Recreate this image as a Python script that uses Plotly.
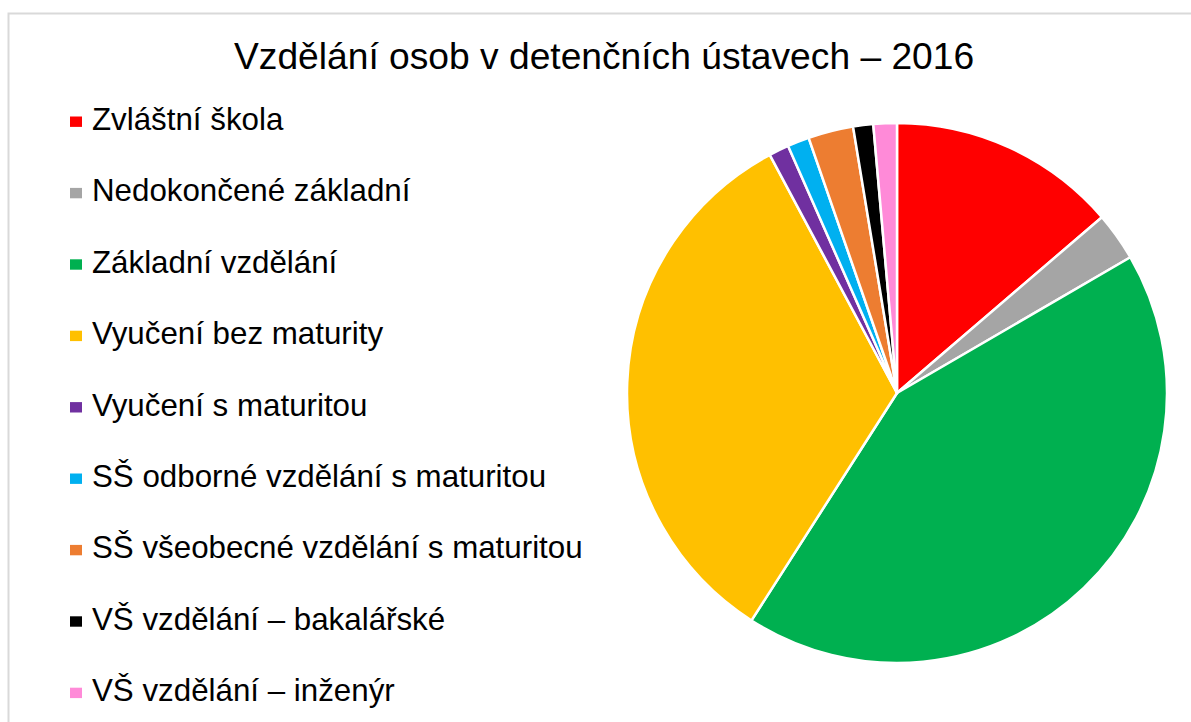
import plotly.graph_objects as go

W, H = 1191, 722

title = "Vzdělání osob v detenčních ústavech – 2016"
labels = [
    "Zvláštní škola",
    "Nedokončené základní",
    "Základní vzdělání",
    "Vyučení bez maturity",
    "Vyučení s maturitou",
    "SŠ odborné vzdělání s maturitou",
    "SŠ všeobecné vzdělání s maturitou",
    "VŠ vzdělání – bakalářské",
    "VŠ vzdělání – inženýr",
]
values = [13.7, 2.9, 42.4, 33.1, 1.2, 1.3, 2.7, 1.2, 1.4]
colors = ["#FF0000", "#A5A5A5", "#00B050", "#FFC000", "#7030A0",
          "#00B0F0", "#ED7D31", "#000000", "#FF8AD8"]

FONT = "Liberation Sans, Arial, sans-serif"

def px(x):
    return x / W

def py(y):
    return 1 - y / H

fig = go.Figure(go.Pie(
    labels=labels,
    values=values,
    marker=dict(colors=colors, line=dict(color="white", width=2.5)),
    sort=False,
    direction="clockwise",
    rotation=0,
    textinfo="none",
    hoverinfo="label+percent",
    showlegend=False,
    domain=dict(x=[px(627), px(1167)], y=[py(663), py(123)]),
))

# Legend built from the label / colour lists
shapes = [dict(type="rect", xref="paper", yref="paper",
               x0=px(8.5), x1=1.02, y0=-0.02, y1=py(13.5),
               line=dict(color="#D9D9D9", width=2), fillcolor="rgba(0,0,0,0)",
               layer="below")]
annotations = []
y0, step = 119.5, 71.4
for i, (lab, col) in enumerate(zip(labels, colors)):
    yc = y0 + i * step
    sq = 121.7 + i * step
    shapes.append(dict(type="rect", xref="paper", yref="paper",
                       x0=px(70), x1=px(82), y0=py(sq + 5.2), y1=py(sq - 5.2),
                       fillcolor=col, line=dict(width=0)))
    annotations.append(dict(text=lab, xref="paper", yref="paper",
                            x=px(89.5), y=py(yc), xanchor="left", yanchor="middle",
                            showarrow=False,
                            font=dict(family=FONT, size=31.3, color="#000000")))

annotations.append(dict(text=title, xref="paper", yref="paper",
                        x=px(604), y=py(56), xanchor="center", yanchor="middle",
                        showarrow=False,
                        font=dict(family=FONT, size=37.2, color="#000000")))

fig.update_layout(
    width=W, height=H,
    margin=dict(l=0, r=0, t=0, b=0),
    paper_bgcolor="white",
    plot_bgcolor="white",
    shapes=shapes,
    annotations=annotations,
    font=dict(family=FONT),
)

fig.write_html("out.html",
               config={"displayModeBar": False},
               post_script="document.body.style.margin='0';document.body.style.overflow='hidden';")
